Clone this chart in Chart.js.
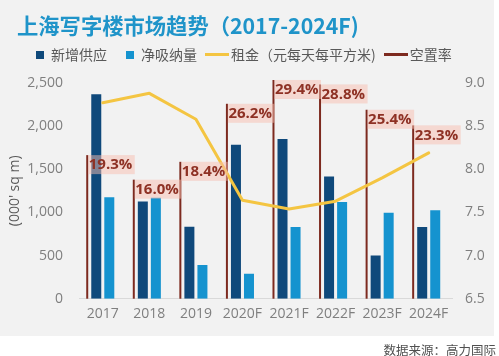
<!DOCTYPE html>
<html><head><meta charset="utf-8">
<script src="https://cdn.jsdelivr.net/npm/chart.js@4"></script>
<style>
html,body{margin:0;padding:0;background:#fff;}
#wrap{position:relative;width:499px;height:356px;overflow:hidden;}
#bg{position:absolute;left:0;top:0;width:494px;height:336px;background:#f2f2f2;}
#c{position:absolute;left:0;top:0;}
</style></head><body>
<div id="wrap"><div id="bg"></div><canvas id="c" width="499" height="356"></canvas></div>
<script>
const CATEGORIES = ['2017', '2018', '2019', '2020F', '2021F', '2022F', '2023F', '2024F'];
const NEW_SUPPLY = [2370, 1125, 835, 1785, 1850, 1415, 500, 830];
const NET_ABSORPTION = [1175, 1170, 390, 290, 830, 1120, 995, 1025];
const RENT = [8.77, 8.88, 8.58, 7.64, 7.54, 7.63, 7.90, 8.19];
const VACANCY = [19.3, 16.0, 18.4, 26.2, 29.4, 28.8, 25.4, 23.3];
const AREA_TICKS = [0, 500, 1000, 1500, 2000, 2500];
const RENT_TICKS = [6.5, 7.0, 7.5, 8.0, 8.5, 9.0];
const SERIES_NAMES = ['新增供应', '净吸纳量', '租金（元每天每平方米)', '空置率'];
const TITLE = '上海写字楼市场趋势（2017-2024F)';
const SOURCE = '数据来源：高力国际';
const Y_TITLE = "(000' sq m)";

const DARK = '#0f497b', LIGHT = '#1593cf', GOLD = '#f4c542', RED = '#7d2a1f';
const VAC_SHIFT = 0.334;   // vacancy marker sits this fraction of a category left of centre
const BAR_SHIFT = 0.14;    // supply / absorption bars sit this fraction either side of centre

function squareIcon(color){
  const c = document.createElement('canvas'); c.width = 14; c.height = 8;
  const g = c.getContext('2d'); g.fillStyle = color; g.fillRect(6, 0, 8, 8); return c;
}
function lineIcon(color){
  const c = document.createElement('canvas'); c.width = 24; c.height = 3;
  const g = c.getContext('2d'); g.fillStyle = color; g.fillRect(0, 0, 24, 3); return c;
}
const ICONS = [squareIcon(DARK), squareIcon(LIGHT), lineIcon(GOLD), lineIcon(RED)];
const indexed = arr => arr.map((v, i) => ({ x: i, y: v }));
const shiftedAxis = s => ({ type: 'linear', display: false, offset: false, min: -0.5 + s, max: CATEGORIES.length - 0.5 + s });

const pctLabels = {
  id: 'pctLabels',
  afterDatasetsDraw(chart){
    const meta = chart.getDatasetMeta(3);
    const ctx = chart.ctx;
    ctx.save();
    ctx.font = 'bold 15px "Open Sans"';
    ctx.textBaseline = 'middle';
    meta.data.forEach((bar, i) => {
      const txt = VACANCY[i].toFixed(1) + '%';
      const w = ctx.measureText(txt).width;
      const x = bar.x + 1, y = bar.y;
      ctx.fillStyle = 'rgba(248,190,176,0.5)';
      ctx.fillRect(x, y, w + 3, 19);
      ctx.fillStyle = '#8e3124';
      ctx.fillText(txt, x + 0.5, y + 10);
    });
    ctx.restore();
  }
};

new Chart(document.getElementById('c'), {
  type: 'bar',
  data: {
    labels: CATEGORIES,
    datasets: [
      { type: 'bar', label: SERIES_NAMES[0], data: indexed(NEW_SUPPLY), backgroundColor: DARK,
        grouped: false, maxBarThickness: 10, xAxisID: 'xd', yAxisID: 'y', order: 1 },
      { type: 'bar', label: SERIES_NAMES[1], data: indexed(NET_ABSORPTION), backgroundColor: LIGHT,
        grouped: false, maxBarThickness: 10, xAxisID: 'xl', yAxisID: 'y', order: 1 },
      { type: 'line', label: SERIES_NAMES[2], data: RENT, borderColor: GOLD, backgroundColor: GOLD,
        borderWidth: 3, pointRadius: 0, tension: 0, borderJoinStyle: 'round', borderCapStyle: 'round',
        xAxisID: 'x', yAxisID: 'y2', order: 0 },
      { type: 'bar', label: SERIES_NAMES[3], data: indexed(VACANCY),
        backgroundColor: RED, grouped: false, maxBarThickness: 2,
        xAxisID: 'xv', yAxisID: 'yv', clip: false, order: 2 }
    ]
  },
  options: {
    responsive: false, animation: false, devicePixelRatio: 1,
    layout: { padding: { left: 17, right: 3, top: 0, bottom: 0 } },
    plugins: {
      tooltip: { enabled: false },
      title: { display: true, text: TITLE, align: 'start', color: '#1f94c9',
        font: { family: '"Noto Sans CJK SC", "Open Sans", sans-serif', size: 21.3, weight: 'bold' },
        padding: { top: 13, bottom: -3.6 } },
      subtitle: { display: true, text: SOURCE, position: 'bottom', align: 'end', color: '#505050',
        font: { family: '"Noto Sans CJK SC", sans-serif', size: 12.5 },
        padding: { top: 13.5, bottom: -2 } },
      legend: {
        position: 'top', align: 'start',
        labels: {
          usePointStyle: true, boxWidth: 14, boxHeight: 14, padding: 13, color: '#595959',
          font: { family: '"Noto Sans CJK SC", sans-serif', size: 14 },
          generateLabels(chart){
            const items = Chart.defaults.plugins.legend.labels.generateLabels(chart);
            items.forEach(it => { it.pointStyle = ICONS[it.datasetIndex]; });
            return items;
          },
          sort: (a, b) => a.datasetIndex - b.datasetIndex
        }
      }
    },
    scales: {
      x: { type: 'category', offset: true, grid: { display: false, drawTicks: false },
        border: { display: true, color: '#d9d9d9', width: 1 },
        ticks: { color: '#7f7f7f', padding: 7, maxRotation: 0, minRotation: 0, autoSkip: false,
          font: { family: '"Open Sans"', size: 14 } } },
      gap: { type: 'linear', axis: 'x', position: 'top', display: true,
        grid: { display: false, drawTicks: false }, border: { display: false }, ticks: { display: false },
        afterFit: s => { s.height = 11; } },
      xd: shiftedAxis(BAR_SHIFT),
      xl: shiftedAxis(-BAR_SHIFT),
      xv: shiftedAxis(VAC_SHIFT),
      y: { position: 'left', min: 0, max: 2500, grid: { display: false, drawTicks: false }, border: { display: false },
        afterBuildTicks: s => { s.ticks = AREA_TICKS.map(v => ({ value: v })); },
        afterFit: s => { s.width = 62.5; },
        ticks: { color: '#7f7f7f', padding: 16.5, font: { family: '"Open Sans"', size: 14 },
          callback: v => v.toLocaleString('en-US') },
        title: { display: true, text: Y_TITLE, color: '#595959', font: { family: '"Open Sans"', size: 14 },
          padding: { top: -10.4, bottom: 0 } } },
      y2: { position: 'right', min: 6.5, max: 9, grid: { display: false, drawTicks: false }, border: { display: false },
        afterBuildTicks: s => { s.ticks = RENT_TICKS.map(v => ({ value: v })); },
        afterFit: s => { s.width = 44; },
        ticks: { color: '#7f7f7f', padding: 13, font: { family: '"Open Sans"', size: 14 },
          callback: v => Number(v).toFixed(1) } },
      yv: { display: false, min: 0, max: 29 }
    }
  },
  plugins: [pctLabels]
});
</script>
</body></html>
